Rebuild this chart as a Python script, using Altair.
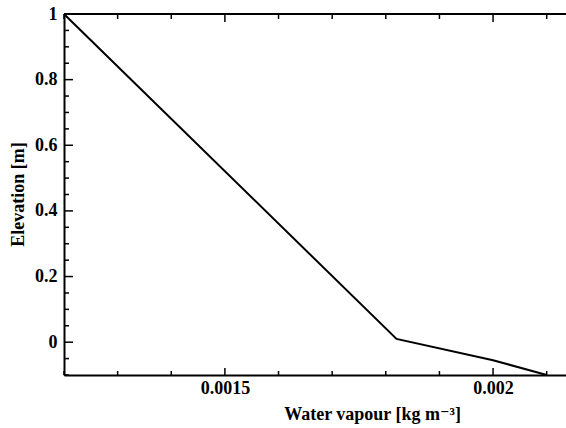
import altair as alt
import pandas as pd

# data
water = [0.0012, 0.00182, 0.00200, 0.0021]
elev = [1.0, 0.01, -0.055, -0.1]

x_major = [0.0015, 0.002]
x_minor = [0.0012, 0.0013, 0.0014, 0.0016, 0.0017, 0.0018, 0.0019, 0.0021]
y_major = [0, 0.2, 0.4, 0.6, 0.8, 1.0]
y_minor = [-0.1, -0.05, 0.05, 0.1, 0.15, 0.25, 0.3, 0.35, 0.45, 0.5, 0.55,
           0.65, 0.7, 0.75, 0.85, 0.9, 0.95]

W, H = 502, 361
FONT = "Times New Roman, Liberation Serif, DejaVu Serif, serif"

xs = alt.Scale(domain=[0.0012, 0.002136], nice=False, zero=False)
ys = alt.Scale(domain=[-0.1, 1.0], nice=False, zero=False)

df = pd.DataFrame({"w": water, "e": elev})

line = alt.Chart(df).mark_line(color="black", strokeWidth=2, clip=True).encode(
    x=alt.X("w:Q", scale=xs, axis=alt.Axis(
        values=x_major, format=".4~f", ticks=False, grid=False,
        domainColor="black", domainWidth=2,
        labelFont=FONT, labelFontSize=18, labelFontWeight="bold", labelColor="black",
        labelPadding=4,
        title="Water vapour [kg m⁻³]", titleFont=FONT, titleFontSize=18,
        titleFontWeight="bold", titleColor="black",
        titleX=308, titleY=44, titleAlign="center", titleBaseline="alphabetic")),
    y=alt.Y("e:Q", scale=ys, axis=alt.Axis(
        values=y_major, format="~g", ticks=False, grid=False,
        domainColor="black", domainWidth=2,
        labelFont=FONT, labelFontSize=18, labelFontWeight="bold", labelColor="black",
        labelPadding=7,
        title="Elevation [m]", titleFont=FONT, titleFontSize=18,
        titleFontWeight="bold", titleColor="black",
        titleX=-46, titleY=180, titleAlign="center", titleBaseline="middle",
        titleAngle=270)),
    order=alt.Order("e:Q", sort="descending"),
)

top_axis = alt.Chart(df).mark_rule(color="black", strokeWidth=2).encode(
    x=alt.value(0), x2=alt.value(W), y=alt.value(0)
)

def yticks(vals, length):
    return alt.Chart(pd.DataFrame({"v": vals})).mark_rule(color="black", strokeWidth=1.5).encode(
        y=alt.Y("v:Q", scale=ys), x=alt.value(0), x2=alt.value(length))

def xticks_bottom(vals, length):
    return alt.Chart(pd.DataFrame({"v": vals})).mark_rule(color="black", strokeWidth=1.5).encode(
        x=alt.X("v:Q", scale=xs), y=alt.value(H), y2=alt.value(H - length))

def xticks_top(vals, length):
    return alt.Chart(pd.DataFrame({"v": vals})).mark_rule(color="black", strokeWidth=1.5).encode(
        x=alt.X("v:Q", scale=xs), y=alt.value(0), y2=alt.value(length))

chart = alt.layer(
    line,
    top_axis,
    yticks(y_major, 9),
    yticks(y_minor, 5),
    xticks_bottom(x_major, 7),
    xticks_bottom(x_minor, 4),
    xticks_top(x_major, 8),
    xticks_top(x_minor, 5),
).properties(
    width=W, height=H,
    padding={"left": 64, "top": 14, "right": 0, "bottom": 53},
    autosize=alt.AutoSizeParams(type="none"),
    background="white",
).configure_view(stroke=None)

chart.save("out.html", embed_options={"renderer": "svg", "actions": False})
